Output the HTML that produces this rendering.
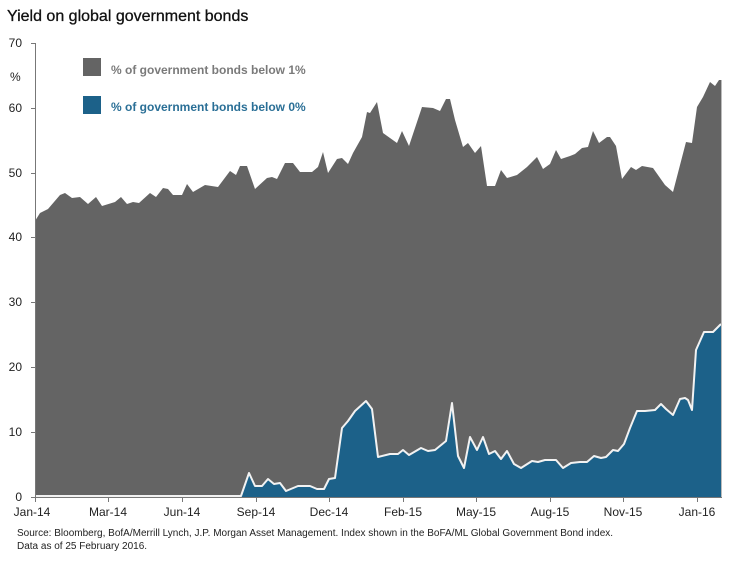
<!DOCTYPE html>
<html><head><meta charset="utf-8"><style>
body{margin:0;background:#fff;}
svg{display:block;font-family:"Liberation Sans",sans-serif;}
</style></head><body>
<svg width="740" height="565" viewBox="0 0 740 565">
<text x="7" y="21" font-size="16" fill="#111" stroke="#111" stroke-width="0.3">Yield on global government bonds</text>
<polygon fill="#646464" points="35,497 35,221 40,213 48,209 60,195 65,193 72,198 80,197 88,204 96,197 102,206 115,202 121,197 127,204 133,202 139,203 150,193 156,197 163,188 168,189 173,195 182,195 187,184 193,192 205,185 218,187 230,171 236,175 240,166 247,166 255,189 267,178 272,177 277,179 285,163 293,163 300,172 312,172 318,167 323,152 328,173 337,159 342,158 348,164 353,153 362,137 367,112 370,113 377,102 383,133 397,143 402,131 409,146 422,107 433,108 440,111 446,99 450,99 455,120 463,147 468,143 475,153 481,146 487,186 495,186 501,170 507,178 517,175 527,167 537,157 543,169 550,164 556,150 561,159 570,156 575,154 582,148 588,147 593,131 599,143 607,137 610,137 616,146 622,179 631,167 636,170 642,166 653,168 665,185 673,192 686,142 692,143 697,107 703,97 710,82 715,86 719,80 721,80 721,497"/>
<polygon fill="#1c6189" points="35,497 241,497 249,473 255,486 262,486 268,479 274,484 280,483 286,491 298,486 310,486 317,489 324,489 329,479 335,478 342,428 348,421 355,411 366,401 372,409 378,457 390,454 398,454 403,450 409,455 421,448 428,451 435,450 446,441 452,403 458,456 464,468 470,437 477,450 483,437 489,454 495,451 501,459 507,451 514,464 521,468 532,461 538,462 545,460 556,460 563,468 571,463 580,462 587,462 594,456 601,458 606,457 613,450 618,451 624,444 630,428 637,411 645,411 655,410 661,404 666,409 673,415 680,399 685,398 688,400 692,410 696,350 704,332 713,332 717,328 721,324 721,497"/>
<polyline fill="none" stroke="#f2f2f2" stroke-width="2" stroke-linejoin="round" points="35,496 241,496 249,473 255,486 262,486 268,479 274,484 280,483 286,491 298,486 310,486 317,489 324,489 329,479 335,478 342,428 348,421 355,411 366,401 372,409 378,457 390,454 398,454 403,450 409,455 421,448 428,451 435,450 446,441 452,403 458,456 464,468 470,437 477,450 483,437 489,454 495,451 501,459 507,451 514,464 521,468 532,461 538,462 545,460 556,460 563,468 571,463 580,462 587,462 594,456 601,458 606,457 613,450 618,451 624,444 630,428 637,411 645,411 655,410 661,404 666,409 673,415 680,399 685,398 688,400 692,410 696,350 704,332 713,332 717,328 721,324"/>
<line x1="721.5" y1="80" x2="721.5" y2="497" stroke="#bbb" stroke-width="1"/>
<line x1="35.5" y1="43" x2="35.5" y2="497" stroke="#777" stroke-width="1"/>
<line x1="35" y1="497.5" x2="722" y2="497.5" stroke="#777" stroke-width="1"/>
<g stroke="#777" stroke-width="1">
<line x1="31" y1="43.5" x2="35" y2="43.5"/><line x1="31" y1="108.5" x2="35" y2="108.5"/><line x1="31" y1="173.5" x2="35" y2="173.5"/><line x1="31" y1="237.5" x2="35" y2="237.5"/><line x1="31" y1="302.5" x2="35" y2="302.5"/><line x1="31" y1="367.5" x2="35" y2="367.5"/><line x1="31" y1="432.5" x2="35" y2="432.5"/><line x1="31" y1="497.5" x2="35" y2="497.5"/>
<line x1="35.5" y1="497" x2="35.5" y2="502"/><line x1="108.5" y1="497" x2="108.5" y2="502"/><line x1="182.5" y1="497" x2="182.5" y2="502"/><line x1="256.5" y1="497" x2="256.5" y2="502"/><line x1="329.5" y1="497" x2="329.5" y2="502"/><line x1="403.5" y1="497" x2="403.5" y2="502"/><line x1="476.5" y1="497" x2="476.5" y2="502"/><line x1="550.5" y1="497" x2="550.5" y2="502"/><line x1="623.5" y1="497" x2="623.5" y2="502"/><line x1="697.5" y1="497" x2="697.5" y2="502"/>
</g>
<g font-size="12" fill="#222" text-anchor="end">
<text x="22" y="47">70</text><text x="22" y="112">60</text><text x="22" y="177">50</text><text x="22" y="241">40</text><text x="22" y="306">30</text><text x="22" y="371">20</text><text x="22" y="436">10</text><text x="22" y="501">0</text>
</g>
<text x="10" y="81" font-size="12" fill="#222">%</text>
<g font-size="12" fill="#222" text-anchor="middle">
<text x="32" y="516">Jan-14</text><text x="108" y="516">Mar-14</text><text x="182" y="516">Jun-14</text><text x="256" y="516">Sep-14</text><text x="329" y="516">Dec-14</text><text x="403" y="516">Feb-15</text><text x="476" y="516">May-15</text><text x="550" y="516">Aug-15</text><text x="623" y="516">Nov-15</text><text x="697" y="516">Jan-16</text>
</g>
<rect x="83" y="58" width="18" height="18" fill="#646464"/>
<text x="111" y="74" font-size="12" font-weight="bold" fill="#7a7a7a">% of government bonds below 1%</text>
<rect x="83" y="96" width="18" height="18" fill="#1c6189"/>
<text x="111" y="111" font-size="12" font-weight="bold" fill="#2a6f96">% of government bonds below 0%</text>
<g font-size="10" fill="#222">
<text x="17" y="536">Source: Bloomberg, BofA/Merrill Lynch, J.P. Morgan Asset Management.  Index shown in the BoFA/ML Global Government Bond index.</text>
<text x="17" y="549">Data as of 25 February 2016.</text>
</g>
</svg>
</body></html>
